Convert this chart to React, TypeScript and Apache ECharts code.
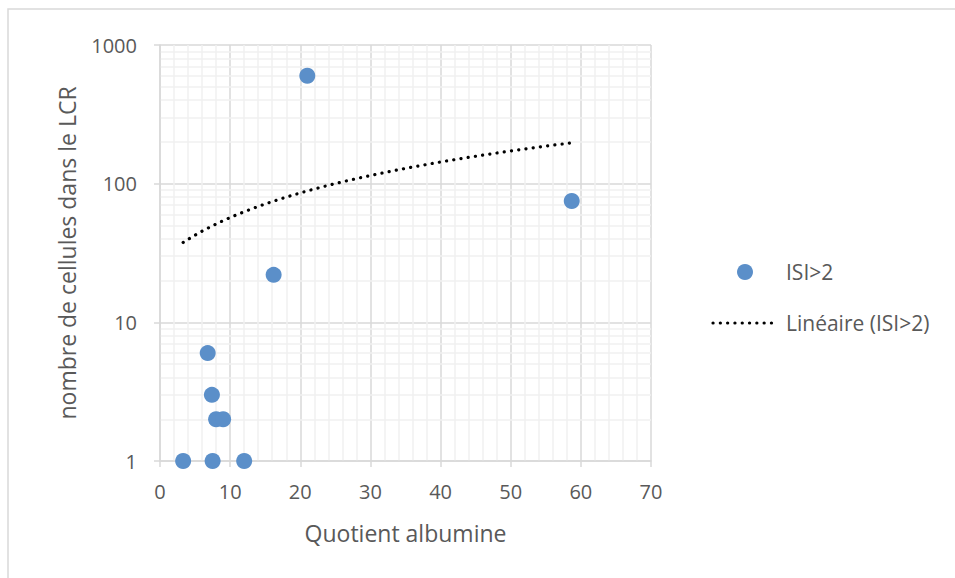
import React, { useEffect, useRef } from "react";
import * as echarts from "echarts";

const quotientAlbumine = [21, 58.7, 16.2, 6.8, 7.4, 8.0, 9.0, 3.3, 7.5, 12.0];
const cellulesLCR = [600, 75, 22, 6, 3, 2, 2, 1, 1, 1];
const xTicks = [0, 10, 20, 30, 40, 50, 60, 70];
const yMinorGrid = [2, 3, 4, 5, 6, 7, 8, 9, 20, 30, 40, 50, 60, 70, 80, 90, 200, 300, 400, 500, 600, 700, 800, 900];

const FONT = "'Open Sans', 'Liberation Sans', sans-serif";
const TEXT = "#595959";

function trend(): number[][] {
  const n = quotientAlbumine.length;
  const mx = quotientAlbumine.reduce((a, b) => a + b, 0) / n;
  const my = cellulesLCR.reduce((a, b) => a + b, 0) / n;
  let sxy = 0;
  let sxx = 0;
  for (let i = 0; i < n; i++) {
    sxy += (quotientAlbumine[i] - mx) * (cellulesLCR[i] - my);
    sxx += (quotientAlbumine[i] - mx) ** 2;
  }
  const b = sxy / sxx;
  const a = my - b * mx;
  const x0 = Math.min(...quotientAlbumine);
  const x1 = Math.max(...quotientAlbumine);
  const pts: number[][] = [];
  const steps = 80;
  for (let i = 0; i <= steps; i++) {
    const x = x0 + ((x1 - x0) * i) / steps;
    pts.push([x, a + b * x]);
  }
  return pts;
}

export default function App() {
  const ref = useRef<HTMLDivElement>(null);
  useEffect(() => {
    if (!ref.current) return;
    const chart = echarts.init(ref.current, undefined, { renderer: "svg" });
    chart.setOption({
      animation: false,
      backgroundColor: "#ffffff",
      grid: { left: 160, right: 304, top: 45, bottom: 117, containLabel: false },
      xAxis: {
        type: "value",
        min: xTicks[0],
        max: xTicks[xTicks.length - 1],
        interval: 10,
        name: "Quotient albumine",
        nameLocation: "middle",
        nameGap: 72,
        nameTextStyle: { color: TEXT, fontFamily: FONT, fontSize: 23, verticalAlign: "middle" },
        axisLine: { show: true, lineStyle: { color: "#d9d9d9", width: 1.5 } },
        axisTick: { show: true, length: 6, lineStyle: { color: "#d9d9d9", width: 1.5 } },
        axisLabel: { color: TEXT, fontFamily: FONT, fontSize: 20, margin: 20 },
        splitLine: { show: true, lineStyle: { color: "#d9d9d9", width: 1.5 } },
        minorTick: { show: false, splitNumber: 5 },
        minorSplitLine: { show: true, lineStyle: { color: "#f0f0f0", width: 1.5 } },
      },
      yAxis: {
        type: "log",
        logBase: 10,
        min: 1,
        max: 1000,
        axisLine: { show: true, onZero: false, lineStyle: { color: "#d9d9d9", width: 1.5 } },
        axisTick: { show: true, length: 6, lineStyle: { color: "#d9d9d9", width: 1.5 } },
        axisLabel: {
          color: TEXT,
          fontFamily: FONT,
          fontSize: 20,
          margin: 23,
          formatter: (v: number) => String(Math.round(v)),
        },
        splitLine: { show: true, lineStyle: { color: "#d9d9d9", width: 1.5 } },
      },
      series: [
        {
          type: "line",
          data: [],
          silent: true,
          z: 0,
          markLine: {
            silent: true,
            z: 0,
            symbol: "none",
            label: { show: false },
            emphasis: { disabled: true },
            lineStyle: { color: "#f0f0f0", width: 1.5, type: "solid" },
            data: yMinorGrid.map((v) => ({ yAxis: v })),
          },
        },
        {
          name: "ISI>2",
          type: "scatter",
          symbol: "circle",
          symbolSize: 16,
          itemStyle: { color: "#5b8fc9", opacity: 1 },
          data: quotientAlbumine.map((x, i) => [x, cellulesLCR[i]]),
          z: 6,
        },
        {
          name: "Linéaire (ISI>2)",
          type: "line",
          showSymbol: false,
          smooth: false,
          lineStyle: { color: "#000000", width: 3.2, type: [0.1, 7.2], cap: "round" },
          data: trend(),
          z: 7,
        },
      ],
      graphic: [
        {
          type: "rect",
          shape: { x: 8, y: 9, width: 980, height: 600 },
          style: { fill: "none", stroke: "#d9d9d9", lineWidth: 1.5 },
          silent: true,
          z: -10,
        },
        {
          type: "text",
          x: 67,
          y: 253,
          rotation: Math.PI / 2,
          style: {
            text: "nombre de cellules dans le LCR",
            fill: TEXT,
            font: `23px ${FONT}`,
            align: "center",
            verticalAlign: "middle",
          },
        },
        {
          type: "circle",
          shape: { cx: 745, cy: 272, r: 8 },
          style: { fill: "#5b8fc9" },
        },
        {
          type: "text",
          x: 786,
          y: 272,
          style: { text: "ISI>2", fill: TEXT, font: `21px ${FONT}`, verticalAlign: "middle" },
        },
        {
          type: "line",
          shape: { x1: 713, y1: 323, x2: 778, y2: 323 },
          style: { stroke: "#000000", lineWidth: 3.2, lineDash: [0.1, 7.2], lineCap: "round" },
        },
        {
          type: "text",
          x: 786,
          y: 323,
          style: { text: "Linéaire (ISI>2)", fill: TEXT, font: `21px ${FONT}`, verticalAlign: "middle" },
        },
      ],
    });
    return () => chart.dispose();
  }, []);
  return (
    <div
      ref={ref}
      style={{ position: "fixed", left: 0, top: 0, width: 955, height: 578, background: "#fff" }}
    />
  );
}
